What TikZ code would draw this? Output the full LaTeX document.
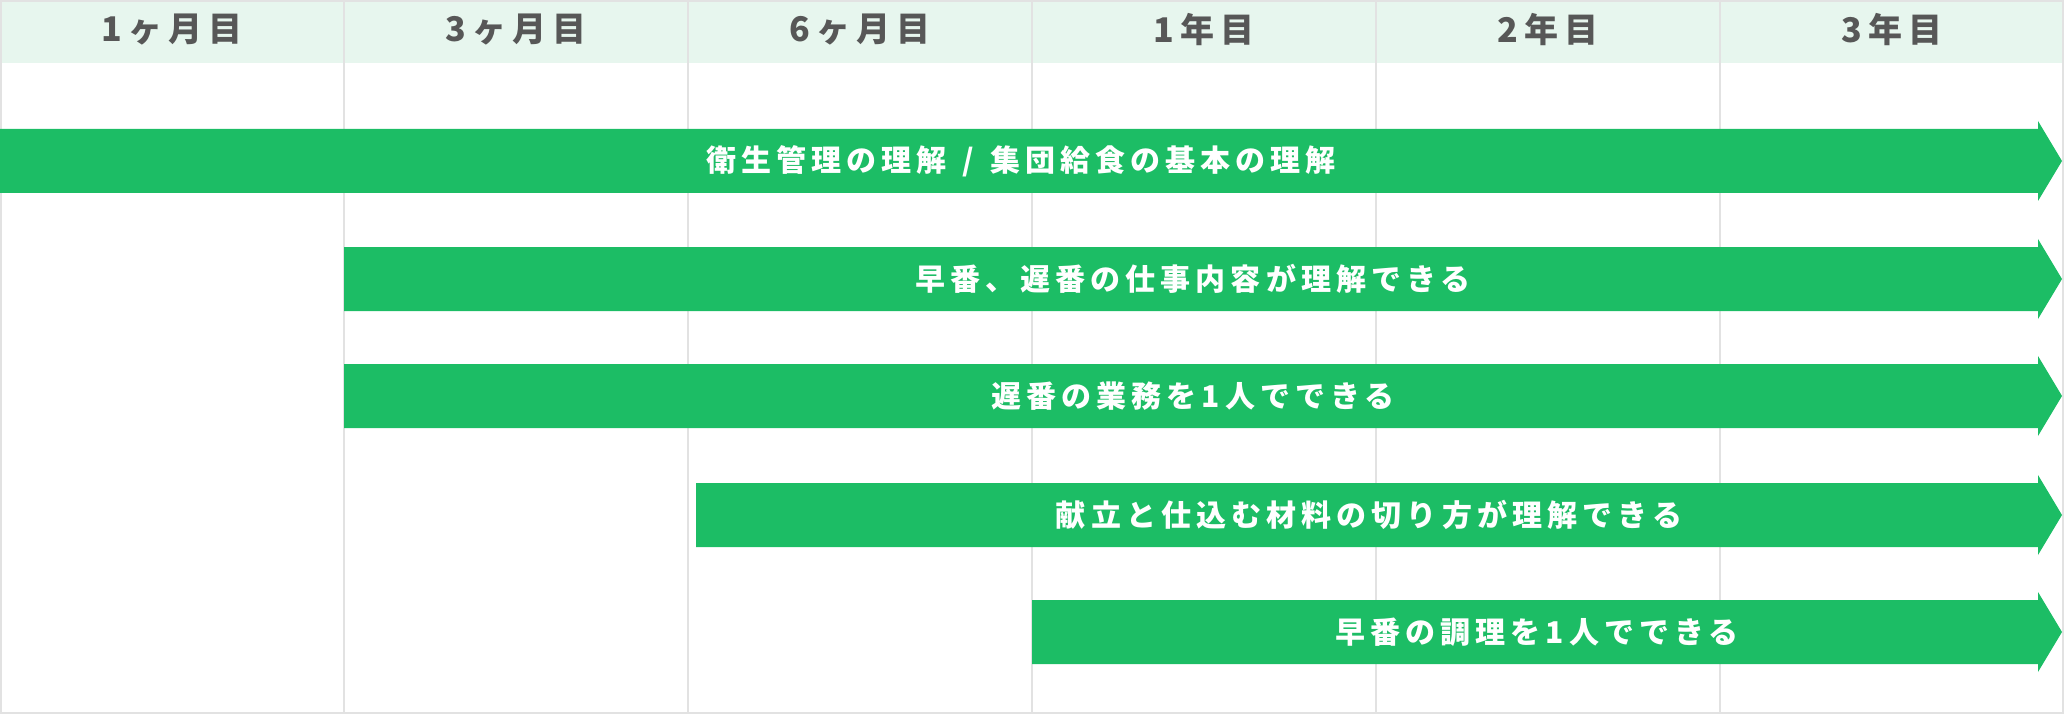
\documentclass[tikz,border=0pt]{standalone}
\usepackage{fontspec}
\setmainfont{Noto Sans CJK JP}
\newfontfamily\barfont{Noto Sans CJK JP}[LetterSpace=17]
\newfontfamily\headfont{Noto Sans CJK JP}[LetterSpace=17]
\definecolor{barGreen}{HTML}{1CBD65}
\definecolor{headMint}{HTML}{E7F6EE}
\definecolor{headText}{HTML}{575757}
\definecolor{gridGray}{HTML}{E2E2E2}
\tikzset{
  bar/.style={fill=barGreen,draw=none},
  barlabel/.style={text=white,font=\barfont\bfseries\fontsize{30}{34}\selectfont,inner sep=0pt},
  headlabel/.style={text=headText,font=\headfont\bfseries\fontsize{34}{38}\selectfont,inner sep=0pt},
}
\begin{document}
\begin{tikzpicture}[x=1pt,y=-1pt]
 \useasboundingbox (0,0) rectangle (2064,714);
 \fill[headMint](0,0) rectangle (2064,63);
 \foreach \gx in {344,688,1032,1376,1720}
  \draw[gridGray,line width=2pt](\gx,0)--(\gx,714);
 \draw[gridGray,line width=2pt](1,1) rectangle (2063,713);
 \node[headlabel] (m1) at (172,30) {1ヶ月目};
 \node[headlabel] (m3) at (516,30) {3ヶ月目};
 \node[headlabel] (m6) at (860,30) {6ヶ月目};
 \node[headlabel] (y1) at (1204,30) {1年目};
 \node[headlabel] (y2) at (1548,30) {2年目};
 \node[headlabel] (y3) at (1892,30) {3年目};
 \fill[bar](0,129)--(2038,129)--(2038,121)--(2062,161)--(2038,201)--(2038,193)--(0,193)--cycle;
 \fill[bar](344,247)--(2038,247)--(2038,239)--(2062,279)--(2038,319)--(2038,311)--(344,311)--cycle;
 \fill[bar](344,364)--(2038,364)--(2038,356)--(2062,396)--(2038,436)--(2038,428)--(344,428)--cycle;
 \fill[bar](696,483)--(2038,483)--(2038,475)--(2062,515)--(2038,555)--(2038,547)--(696,547)--cycle;
 \fill[bar](1032,600)--(2038,600)--(2038,592)--(2062,632)--(2038,672)--(2038,664)--(1032,664)--cycle;
 \node[barlabel] (hygiene) at (1021,161) {衛生管理の理解\hspace{4pt} / \hspace{4pt}集団給食の基本の理解};
 \node[barlabel] (shifts) at (1193,279) {早番、遅番の仕事内容が理解できる};
 \node[barlabel] (late) at (1193,396) {遅番の業務を1人でできる};
 \node[barlabel] (menu) at (1369,515) {献立と仕込む材料の切り方が理解できる};
 \node[barlabel] (early) at (1537,632) {早番の調理を1人でできる};
\end{tikzpicture}
\end{document}
